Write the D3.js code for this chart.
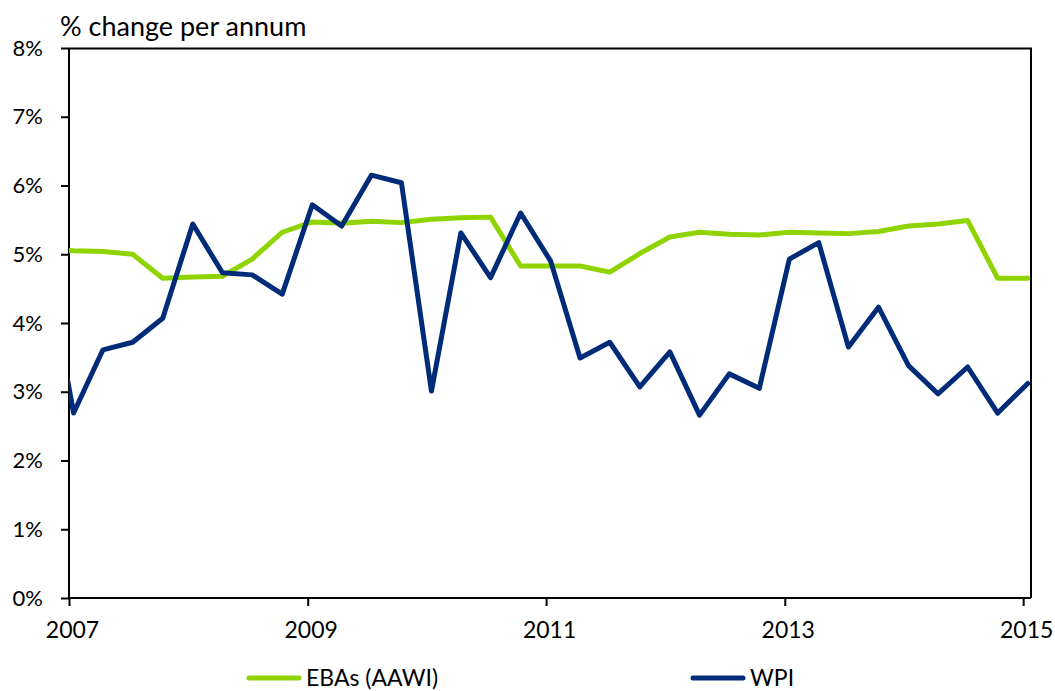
<!DOCTYPE html>
<html>
<head>
  <meta charset="utf-8">
  <script src="https://d3js.org/d3.v7.min.js"></script>
  <title>EBAs vs WPI</title>
  <style>
    body { margin: 0; background: #fff; }
    text { font-family: Lato, "Open Sans", sans-serif; fill: #000; }
  </style>
</head>
<body>
  <div class="chart"></div>
  <script>
    // quarterly observations (first one sits before the axis and gets clipped)
    var quarters = ['2006-10', '2007-01', '2007-04', '2007-07', '2007-10',
      '2008-01', '2008-04', '2008-07', '2008-10', '2009-01', '2009-04', '2009-07', '2009-10',
      '2010-01', '2010-04', '2010-07', '2010-10', '2011-01', '2011-04', '2011-07', '2011-10',
      '2012-01', '2012-04', '2012-07', '2012-10', '2013-01', '2013-04', '2013-07', '2013-10',
      '2014-01', '2014-04', '2014-07', '2014-10', '2015-01'];

    var ebaValues = [5.07, 5.05, 5.04, 5.00, 4.65,
      4.67, 4.68, 4.93, 5.32, 5.47, 5.45, 5.48, 5.46,
      5.51, 5.53, 5.54, 4.83, 4.83, 4.83, 4.74, 5.01,
      5.25, 5.32, 5.29, 5.28, 5.32, 5.31, 5.30, 5.33,
      5.41, 5.44, 5.49, 4.65, 4.65];

    var wpiValues = [5.1, 2.69, 3.61, 3.72, 4.07,
      5.44, 4.73, 4.70, 4.42, 5.72, 5.41, 6.15, 6.04,
      3.01, 5.31, 4.66, 5.60, 4.90, 3.49, 3.72, 3.07,
      3.58, 2.66, 3.26, 3.05, 4.93, 5.17, 3.65, 4.23,
      3.38, 2.97, 3.36, 2.69, 3.12];

    var yTicks = [0, 1, 2, 3, 4, 5, 6, 7, 8];
    var xTickYears = [2007, 2009, 2011, 2013, 2015];

    var seriesNames = ['EBAs (AAWI)', 'WPI'];
    var seriesColors = ['#8fd400', '#002b78'];

    var width = 1055, height = 691;
    var margin = {top: 48, right: 24, bottom: 93, left: 69};
    var innerW = width - margin.left - margin.right;
    var innerH = height - margin.top - margin.bottom;

    var parse = d3.timeParse('%Y-%m-%d');
    // points are plotted mid-month
    var dates = quarters.map(function(q) { return parse(q + '-15'); });

    var x = d3.scaleTime()
      .domain([parse('2007-01-01'), parse('2015-01-25')])
      .range([0, innerW]);

    var y = d3.scaleLinear()
      .domain([0, 8])
      .range([innerH, 0]);

    var svg = d3.select('.chart')
      .append('svg')
      .attr('width', width)
      .attr('height', height);

    svg.append('text')
      .attr('x', 60)
      .attr('y', 36)
      .style('font-size', '27px')
      .text('% change per annum');

    var g = svg.append('g')
      .attr('transform', 'translate(' + margin.left + ',' + margin.top + ')');

    g.append('clipPath')
      .attr('id', 'plot-clip')
      .append('rect')
      .attr('width', innerW)
      .attr('height', innerH);

    // frame: top and right edges
    g.append('path')
      .attr('d', 'M0,0.5H' + innerW + 'V' + innerH)
      .attr('fill', 'none')
      .attr('stroke', '#000')
      .attr('stroke-width', 2);

    var yAxis = g.append('g')
      .call(d3.axisLeft(y)
        .tickValues(yTicks)
        .tickSize(8)
        .tickPadding(18)
        .tickFormat(function(d) { return d + '%'; }));

    var xAxis = g.append('g')
      .attr('transform', 'translate(0,' + innerH + ')')
      .call(d3.axisBottom(x)
        .tickValues(xTickYears.map(function(yr) { return new Date(yr, 0, 1); }))
        .tickSize(8)
        .tickPadding(16)
        .tickFormat(d3.timeFormat('%Y')));

    [yAxis, xAxis].forEach(function(ax) {
      ax.select('.domain').attr('stroke-width', 2);
      ax.selectAll('.tick line').attr('stroke-width', 2);
      ax.selectAll('.tick text')
        .style('font-family', 'Lato, sans-serif')
        .attr('fill', '#000');
    });
    yAxis.selectAll('.tick text').style('font-size', '22px');
    // year labels sit a little right of their tick, as in the original
    xAxis.selectAll('.tick text').style('font-size', '23px').attr('x', 3);
    yAxis.select('.domain').attr('d', 'M0,0V' + innerH);
    xAxis.select('.domain').attr('d', 'M0,0H' + innerW);

    var line = d3.line()
      .x(function(d) { return x(d.date); })
      .y(function(d) { return y(d.value); });

    var series = [ebaValues, wpiValues].map(function(vals) {
      return vals.map(function(v, i) { return {date: dates[i], value: v}; });
    });

    g.append('g')
      .attr('clip-path', 'url(#plot-clip)')
      .selectAll('path')
      .data(series)
      .enter()
      .append('path')
      .attr('d', line)
      .attr('fill', 'none')
      .attr('stroke', function(d, i) { return seriesColors[i]; })
      .attr('stroke-width', 5)
      .attr('stroke-linejoin', 'round')
      .attr('stroke-linecap', 'round');

    // legend along the bottom
    var legendX = [249, 693];
    var legend = svg.append('g')
      .selectAll('g')
      .data(seriesNames)
      .enter()
      .append('g')
      .attr('transform', function(d, i) { return 'translate(' + legendX[i] + ',678)'; });

    legend.append('line')
      .attr('x1', 0)
      .attr('x2', 50)
      .attr('stroke', function(d, i) { return seriesColors[i]; })
      .attr('stroke-width', 5)
      .attr('stroke-linecap', 'round');

    legend.append('text')
      .attr('x', 57)
      .attr('dy', '0.35em')
      .style('font-size', '23px')
      .text(function(d) { return d; });
  </script>
</body>
</html>
